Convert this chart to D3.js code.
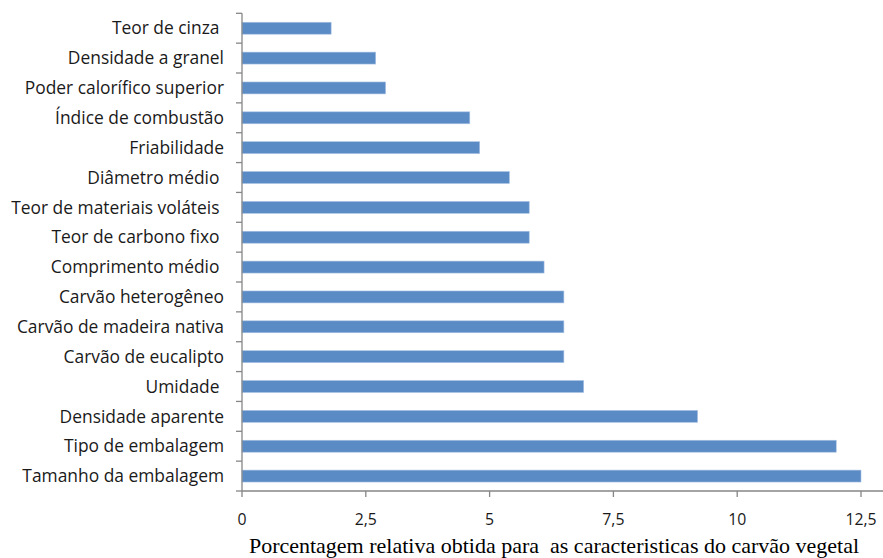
<!DOCTYPE html>
<html>
<head>
<meta charset="utf-8">
<script src="https://cdn.jsdelivr.net/npm/d3@7"></script>
<style>
  html, body { margin: 0; padding: 0; background: #fff; }
  svg { display: block; }
  .cat text { font-family: "Open Sans", sans-serif; font-size: 17.4px; fill: #1a1a1a; white-space: pre; }
  .xax text { font-family: "Open Sans", sans-serif; font-size: 15.8px; fill: #1a1a1a; }
  .title { font-family: "Liberation Serif", "Times New Roman", serif; font-size: 22px; fill: #000; white-space: pre; }
</style>
</head>
<body>
<svg id="chart" width="883" height="558"></svg>
<script>
const categories = [
  "Teor de cinza ",
  "Densidade a granel",
  "Poder calorífico superior",
  "Índice de combustão",
  "Friabilidade",
  "Diâmetro médio ",
  "Teor de materiais voláteis ",
  "Teor de carbono fixo ",
  "Comprimento médio ",
  "Carvão heterogêneo",
  "Carvão de madeira nativa",
  "Carvão de eucalipto",
  "Umidade ",
  "Densidade aparente",
  "Tipo de embalagem",
  "Tamanho da embalagem"
];
const values = [1.8, 2.7, 2.9, 4.6, 4.8, 5.4, 5.8, 5.8, 6.1, 6.5, 6.5, 6.5, 6.9, 9.2, 12.0, 12.5];
const xTicks = [0, 2.5, 5, 7.5, 10, 12.5];
const xTitle = "Porcentagem relativa obtida para  as caracteristicas do carvão vegetal";

(function () {
const svg = d3.select("#chart");
const mLeft = 242, mRight = 861, mTop = 13.3, mBottom = 491;

const x = d3.scaleLinear().domain([0, 12.5]).range([mLeft, mRight]);
const y = d3.scaleBand().domain(categories).range([mTop, mBottom]).paddingInner(0.6).paddingOuter(0.3);
const yb = d3.scaleBand().domain(categories).range([mTop, mBottom]);

svg.append("g").selectAll("rect").data(categories).join("rect")
  .attr("x", x(0))
  .attr("y", d => y(d))
  .attr("width", (d, i) => x(values[i]) - x(0))
  .attr("height", y.bandwidth())
  .attr("fill", "#5b8bc5")
  .attr("stroke", "#a9c2e3")
  .attr("stroke-width", 0.6);

const axisColor = "#868686";

const gy = svg.append("g").attr("class", "cat");
gy.append("line").attr("x1", mLeft).attr("x2", mLeft).attr("y1", mTop).attr("y2", mBottom)
  .attr("stroke", axisColor).attr("stroke-width", 1.3);
const boundaries = categories.map(c => yb(c)).concat([mBottom]);
gy.selectAll("line.tk").data(boundaries).join("line").attr("class", "tk")
  .attr("x1", mLeft - 6).attr("x2", mLeft).attr("y1", d => d).attr("y2", d => d)
  .attr("stroke", axisColor).attr("stroke-width", 1.3);
gy.selectAll("text").data(categories).join("text")
  .attr("x", 224)
  .attr("y", d => yb(d) + yb.bandwidth() / 2)
  .attr("dy", "0.36em")
  .attr("text-anchor", "end")
  .text(d => d);

const gx = svg.append("g").attr("class", "xax");
gx.append("line").attr("x1", mLeft).attr("x2", 883).attr("y1", mBottom).attr("y2", mBottom)
  .attr("stroke", axisColor).attr("stroke-width", 1.3);
gx.selectAll("line.tk").data(xTicks).join("line").attr("class", "tk")
  .attr("x1", d => x(d)).attr("x2", d => x(d)).attr("y1", mBottom).attr("y2", mBottom + 6)
  .attr("stroke", axisColor).attr("stroke-width", 1.3);
const fmt = d => String(d).replace(".", ",");
gx.selectAll("text").data(xTicks).join("text")
  .attr("x", d => x(d))
  .attr("y", 524.5)
  .attr("text-anchor", "middle")
  .text(fmt);

svg.append("text").attr("class", "title")
  .attr("x", 554).attr("y", 553)
  .attr("text-anchor", "middle")
  .text(xTitle);
})();
</script>
</body>
</html>
